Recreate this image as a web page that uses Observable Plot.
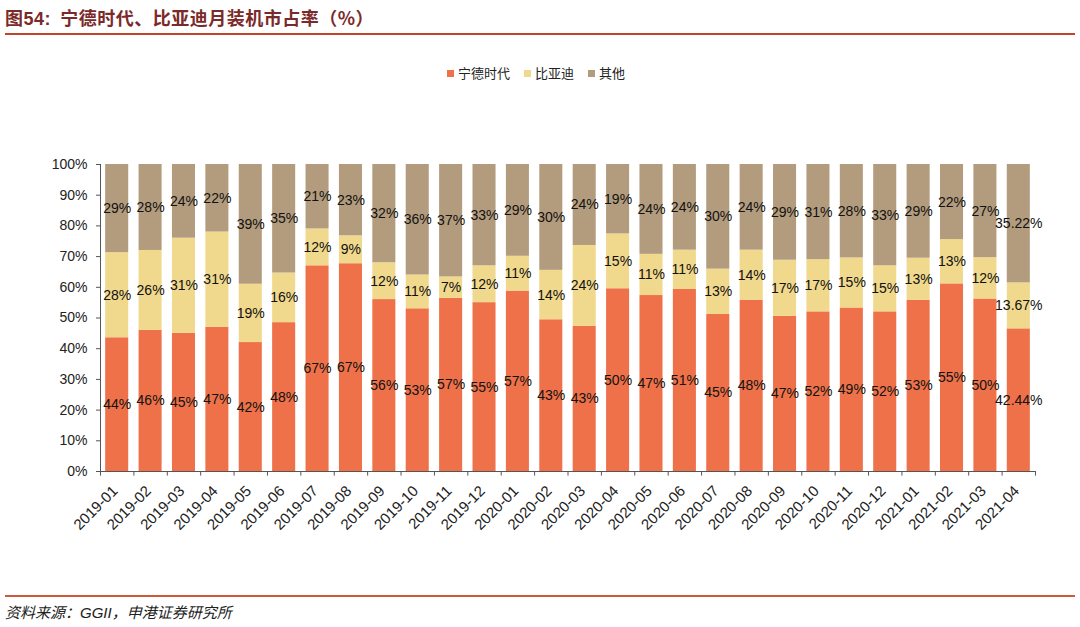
<!DOCTYPE html>
<html>
<head>
<meta charset="utf-8">
<script src="https://cdn.jsdelivr.net/npm/d3@7"></script>
<script src="https://cdn.jsdelivr.net/npm/@observablehq/plot@0.6"></script>
<style>
  body { margin: 0; background: #fff; }
  #wrap { position: relative; width: 1080px; height: 627px; overflow: hidden; font-family: "Liberation Sans", Arial, sans-serif; }
  #wrap svg { position: absolute; left: 0; top: 0; }
  .title { position: absolute; left: 5px; top: 5px; font-family: "Noto Sans CJK SC", sans-serif; font-weight: bold; font-size: 18px; color: #7b2a2a; line-height: 24px; white-space: nowrap; letter-spacing: 0.5px; }
  .title b { font-family: "Liberation Sans", Arial, sans-serif; }
  .hline { position: absolute; left: 5px; width: 1070px; height: 1.5px; }
  .legend { position: absolute; top: 63px; left: 447px; display: flex; gap: 14px; font-family: "Noto Sans CJK SC", sans-serif; font-size: 13px; color: #222; line-height: 20px; }
  .legend span.item { display: flex; align-items: center; }
  .legend i { display: inline-block; width: 7px; height: 7px; margin-right: 4px; }
  .source { position: absolute; left: 5px; top: 601px; font-family: "Noto Sans CJK SC", sans-serif; font-style: italic; font-size: 15px; color: #222; white-space: nowrap; }
  .source .en { font-family: "Liberation Sans", Arial, sans-serif; }
</style>
</head>
<body>
<div id="wrap">
  <div class="title"><span>图</span><b>54:</b>&nbsp;&nbsp;宁德时代、比亚迪月装机市占率（%）</div>
  <div class="hline" style="top:33px;background:#c0432c;"></div>
  <div class="legend" id="legend"></div>
  <div class="hline" style="top:595px;background:#d0583c;"></div>
  <div class="source">资料来源：<span class="en">GGII</span>，申港证券研究所</div>
</div>
<script>
const months = ["2019-01","2019-02","2019-03","2019-04","2019-05","2019-06","2019-07","2019-08","2019-09","2019-10","2019-11","2019-12",
  "2020-01","2020-02","2020-03","2020-04","2020-05","2020-06","2020-07","2020-08","2020-09","2020-10","2020-11","2020-12",
  "2021-01","2021-02","2021-03","2021-04"];
const seriesNames = ["宁德时代", "比亚迪", "其他"];
const catl  = [44,46,45,47,42,48,67,67,56,53,57,55,57,43,43,50,47,51,45,48,47,52,49,52,53,55,50,42.44];
const byd   = [28,26,31,31,19,16,12,9,12,11,7,12,11,14,24,15,11,11,13,14,17,17,15,15,13,13,12,13.67];
const other = [29,28,24,22,39,35,21,23,32,36,37,33,29,30,24,19,24,24,30,24,29,31,28,33,29,22,27,35.22];
const colors = ["#ee714a", "#f0d88c", "#b39c7d"];
const yTicks = [0,0.1,0.2,0.3,0.4,0.5,0.6,0.7,0.8,0.9,1];

const seriesValues = [catl, byd, other];
const data = [];
seriesNames.forEach((s, si) => months.forEach((m, i) => data.push({month: m, series: s, value: seriesValues[si][i]})));

const fmt = v => (Number.isInteger(v) ? v : v.toFixed(2)) + "%";

const mL = 100, mR = 45, W = 1080;
const pIn = 0.31, pOut = 0.155;
const step = (W - mL - mR) / (months.length - pIn + 2 * pOut);

const chart = Plot.plot({
  width: W, height: 627,
  marginTop: 164, marginBottom: 156, marginLeft: mL, marginRight: mR,
  style: {fontFamily: "Liberation Sans, Arial, sans-serif", fontSize: "14px", color: "#222", background: "transparent"},
  x: {domain: months, paddingInner: pIn, paddingOuter: pOut, round: false, label: null},
  y: {domain: [0, 1], label: null},
  color: {domain: seriesNames, range: colors},
  marks: [
    Plot.barY(data, {x: "month", y: "value", fill: "series", z: "series", offset: "normalize", order: seriesNames}),
    Plot.text(data, Plot.stackY({x: "month", y: "value", z: "series", offset: "normalize", order: seriesNames, text: d => fmt(d.value), fill: "#111", fontSize: 14})),
    Plot.axisY({ticks: yTicks, tickFormat: d => Math.round(d * 100) + "%", tickSize: 4, tickPadding: 9, fontSize: 14, fill: "#222", stroke: "#555", label: null}),
    Plot.axisX({tickSize: 0, tickRotate: -45, tickPadding: 17, dx: -2, fontSize: 15, fill: "#222", label: null}),
    Plot.ruleY([0], {stroke: "#555"}),
    Plot.ruleX(months, {x: d => d, y1: 0, y2: -0.015, dx: -step / 2, stroke: "#555"}),
    Plot.ruleX(months.slice(-1), {x: d => d, y1: 0, y2: -0.015, dx: step / 2, stroke: "#555"}),
    Plot.ruleX(months.slice(0, 1), {x: d => d, y1: 0, y2: 1, dx: -step / 2, stroke: "#555"})
  ]
});
document.getElementById("wrap").appendChild(chart);

const lg = document.getElementById("legend");
seriesNames.forEach((s, i) => {
  const it = document.createElement("span");
  it.className = "item";
  it.innerHTML = `<i style="background:${colors[i]}"></i>${s}`;
  lg.appendChild(it);
});
</script>
</body>
</html>
